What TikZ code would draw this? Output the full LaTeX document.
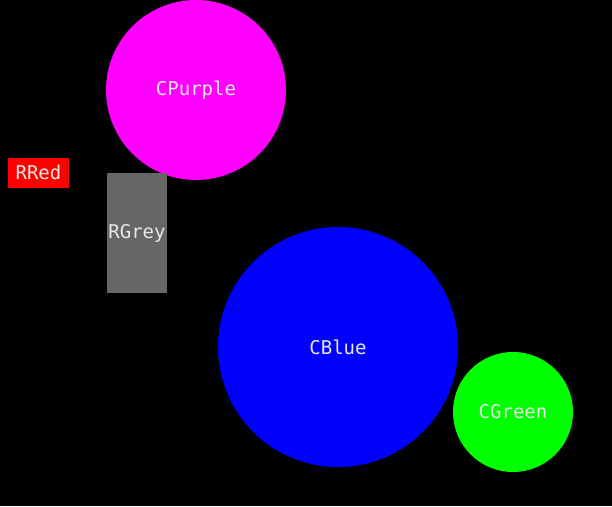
\documentclass[tikz,border=0pt]{standalone}
\usepackage{fontspec}
\setmonofont{DejaVu Sans Mono}
\definecolor{txt}{HTML}{E8E8E8}
\definecolor{cgrey}{HTML}{666666}
\definecolor{cpurple}{HTML}{FF00FF}
\definecolor{cred}{HTML}{FF0000}
\definecolor{cblue}{HTML}{0000FF}
\definecolor{cgreen}{HTML}{00FF00}
\begin{document}
\begin{tikzpicture}[x=1pt,y=-1pt,
  lbl/.style={text=txt,font=\ttfamily\fontsize{19}{19}\selectfont},
  circ/.style={circle,draw=none,inner sep=0pt,lbl},
  rect/.style={rectangle,draw=none,inner sep=0pt,lbl}]
\fill[black] (0,0) rectangle (612,506);
\useasboundingbox (0,0) rectangle (612,506);
\node[circ,fill=cpurple,minimum size=180pt] (purple) at (196,90) {CPurple};
\node[rect,fill=cred,minimum width=61pt,minimum height=30pt] (red) at (38.5,172.5) {RRed};
\node[rect,fill=cgrey,minimum width=60pt,minimum height=120pt] (grey) at (137,233) {RGrey};
\node[circ,fill=cblue,minimum size=240pt] (blue) at (338,347) {CBlue};
\node[circ,fill=cgreen,minimum size=120pt] (green) at (513,412) {CGreen};
\end{tikzpicture}
\end{document}
